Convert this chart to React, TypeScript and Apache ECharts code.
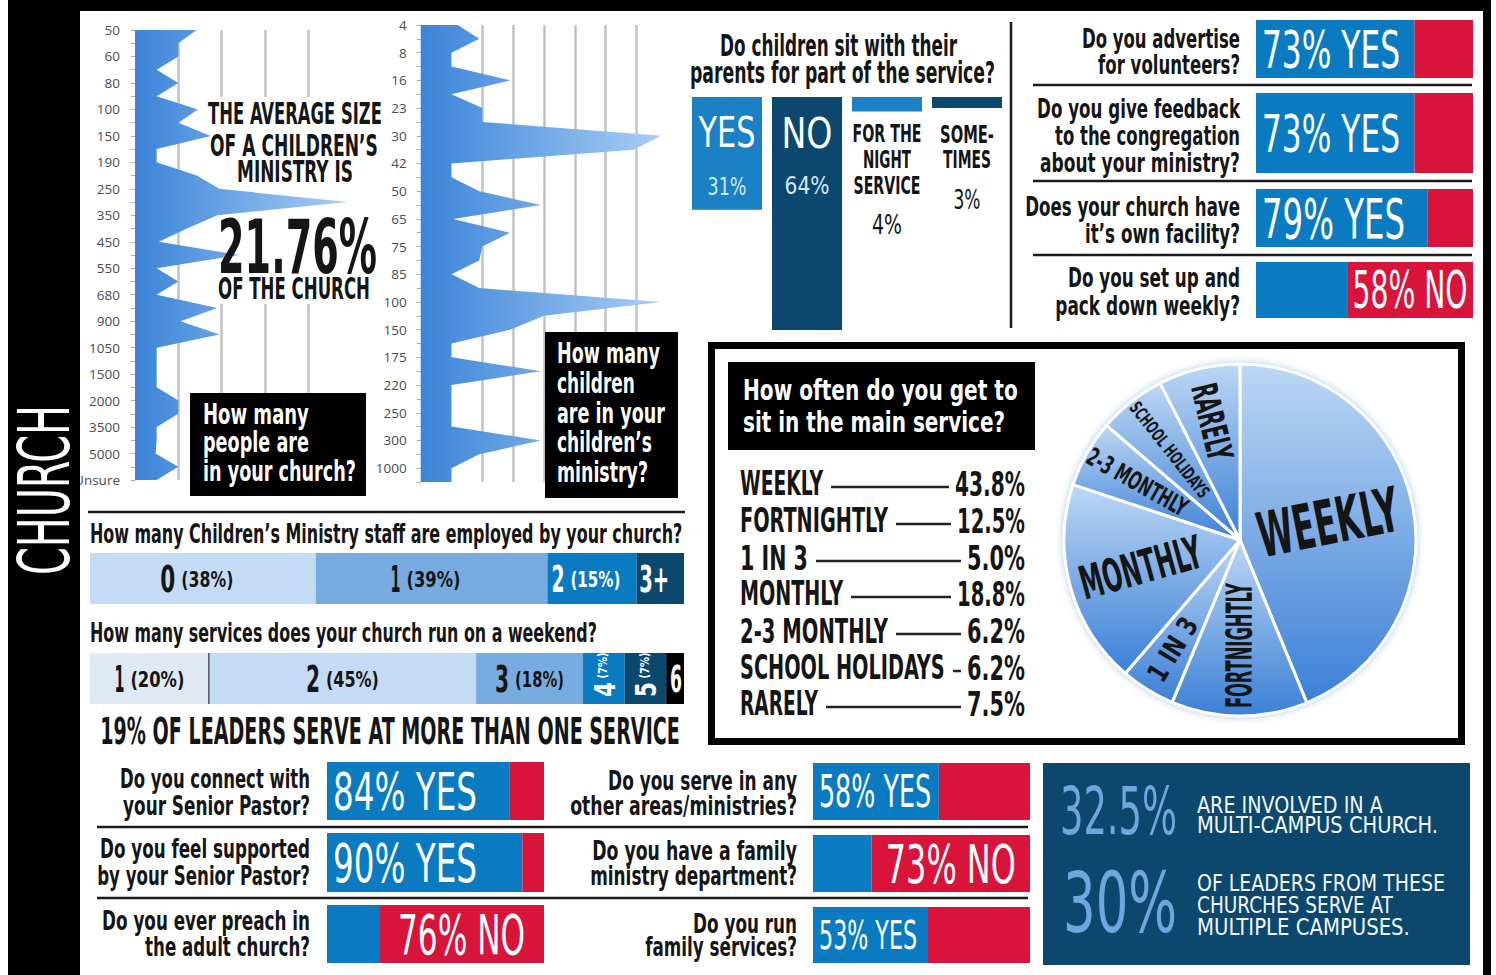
import React, { useEffect, useRef } from 'react';
import * as echarts from 'echarts';

// ======================= DATA =======================
// "How many people are in your church?" (every second row of the chart is unlabelled)
const churchSizeLabels = ['50', '60', '80', '100', '150', '190', '250', '350', '450', '550', '680', '900', '1050', '1500', '2000', '3500', '5000', 'Unsure'];
const churchSizeCounts = [2.85, 2, 2, 1, 2, 1, 2.9, 2, 3.5, 1, 1, 2.85, 3.9, 9.8, 3.8, 2.4, 1.1, 4.8, 1, 2, 1, 3.8, 2.1, 3.9, 1, 1, 1, 1, 2, 2, 1, 1, 0.95, 2, 1];
// "How many children are in your children's ministry?"
const childrenLabels = ['4', '8', '16', '23', '30', '42', '50', '65', '75', '85', '100', '150', '175', '220', '250', '300', '1000'];
const childrenCounts = [1.2, 1.9, 1, 1, 2.9, 1, 2, 2, 7.8, 6.9, 1, 1, 1.9, 3.9, 1.05, 2.9, 2, 1.9, 1, 1.9, 7.8, 4, 2.9, 1, 1, 3.9, 1, 1, 1, 1, 3.9, 1.9, 1, 1];
const averageChildrenShare = 21.76;

const sitCategories = ['YES', 'NO', 'FOR THE\nNIGHT\nSERVICE', 'SOME-\nTIMES'];
const sitValues = [31, 64, 4, 3];

const staffCategories = ['0', '1', '2', '3+'];
const staffValues = [38, 39, 15, 8];
const serviceCategories = ['1', '2', '3', '4', '5', '6'];
const serviceValues = [20, 45, 18, 7, 7, 3];
const leadersMultiService = 19;

const mainServiceCategories = ['WEEKLY', 'FORTNIGHTLY', '1 IN 3', 'MONTHLY', '2-3 MONTHLY', 'SCHOOL HOLIDAYS', 'RARELY'];
const mainServiceValues = [43.8, 12.5, 5.0, 18.8, 6.2, 6.2, 7.5];

const topQuestions = [['Do you advertise', 'for volunteers?'], ['Do you give feedback', 'to the congregation', 'about your ministry?'], ['Does your church have', 'it’s own facility?'], ['Do you set up and', 'pack down weekly?']];
const topYes = [73, 73, 79, 42];
const topNo = [27, 27, 21, 58];
const leftQuestions = [['Do you connect with', 'your Senior Pastor?'], ['Do you feel supported', 'by your Senior Pastor?'], ['Do you ever preach in', 'the adult church?']];
const leftYes = [84, 90, 24];
const leftNo = [16, 10, 76];
const midQuestions = [['Do you serve in any', 'other areas/ministries?'], ['Do you have a family', 'ministry department?'], ['Do you run', 'family services?']];
const midYes = [58, 27, 53];
const midNo = [42, 73, 47];

const multiCampusShare = 32.5;
const multiCampusLeaderShare = 30;

// ======================= STYLE / LAYOUT =======================
const BLUE = '#0a7bc0';
const BLUE2 = '#1b81c4';
const RED = '#d8143a';
const NAVY = '#0c476d';
const MIDBLUE = '#78abdf';
const LIGHTBLUE = '#c4dbf5';
const PALE = '#dfe8f3';
const INK = '#151515';
const GRIDC = '#c2c2c2';
const CLEAR = 'rgba(0,0,0,0)';

const PIE_CX = 1240;
const PIE_CY = 540;
const PIE_R = 176;
const pieLabelRadius = [0.51, 0.6, 0.73, 0.585, 0.67, 0.65, 0.69];
const pieLabelSize = [62, 36, 28, 46, 25, 18, 36];
const pieLabelW = [143, 125, 70, 125, 112, 117, 78];

function pickFont(ctx: any): string {
  if (!ctx) return 'Liberation Sans';
  const sample = 'Hamburgefonstiv 0123456789 WEEKLY';
  const cands = ['Liberation Sans Narrow', 'DejaVu Sans Condensed', 'Roboto Condensed', 'Open Sans Condensed', 'Arial Narrow'];
  for (const f of cands) {
    for (const fb of ['monospace', 'serif']) {
      ctx.font = `40px ${fb}`;
      const a = ctx.measureText(sample).width;
      ctx.font = `40px "${f}", ${fb}`;
      const b = ctx.measureText(sample).width;
      if (Math.abs(a - b) > 0.5) return f;
    }
  }
  return 'Liberation Sans';
}

export default function App() {
  const ref = useRef<HTMLDivElement>(null);

  useEffect(() => {
    const el = ref.current;
    if (!el) return;
    const chart = echarts.init(el, null, { renderer: 'svg' });

    const cv = document.createElement('canvas');
    const ctx = cv.getContext('2d');
    const fam = pickFont(ctx);
    const FONT = `"${fam}", "Liberation Sans", Arial, sans-serif`;

    const T = (text: string, x: number, y: number, o: any) => {
      const weight = o.weight ?? 'bold';
      const font = `${weight} ${o.size}px ${FONT}`;
      let mw = 1;
      if (ctx) {
        ctx.font = font;
        mw = ctx.measureText(text).width || 1;
      }
      const sx = o.w ? o.w / mw : o.sx ?? 1;
      const align = o.align ?? 'left';
      return {
        type: 'text',
        x,
        y,
        rotation: o.rot ?? 0,
        scaleX: sx,
        scaleY: 1,
        z: o.z ?? 20,
        silent: true,
        style: {
          text,
          font,
          fill: o.color ?? INK,
          align,
          textAlign: align,
          verticalAlign: 'middle',
          textVerticalAlign: 'middle',
        },
      };
    };

    // ---------- grids / series ----------
    const grids: any[] = [];
    const xAxes: any[] = [];
    const yAxes: any[] = [];
    const series: any[] = [];
    const hidden = { show: false };

    const addGrid = (box: number[], xa: any, ya: any) => {
      const i = grids.length;
      grids.push({ left: box[0], top: box[1], width: box[2], height: box[3], containLabel: false });
      xAxes.push({ gridIndex: i, ...xa });
      yAxes.push({ gridIndex: i, ...ya });
      return i;
    };

    const stackedBar = (box: number[], vals: number[], colors: string[]) => {
      const gi = addGrid(box, { type: 'value', min: 0, max: 100, show: false }, { type: 'category', data: ['all'], show: false });
      vals.forEach((v, i) => {
        series.push({
          type: 'bar',
          xAxisIndex: gi,
          yAxisIndex: gi,
          stack: 'st' + gi,
          barWidth: '100%',
          data: [v],
          itemStyle: { color: colors[i] },
          silent: true,
        });
      });
      return gi;
    };

    const spikeGrid = (box: number[], labels: string[], counts: number[], max: number, interval: number, lineColors: string[], margin: number) => {
      const cats = counts.map((_, i) => (i % 2 === 0 ? labels[i / 2] ?? '' : ''));
      const gi = addGrid(
        box,
        {
          type: 'value',
          min: 0,
          max,
          interval,
          axisLine: hidden,
          axisTick: hidden,
          axisLabel: hidden,
          splitLine: { show: true, lineStyle: { color: lineColors, width: 2.5 } },
        },
        {
          type: 'category',
          inverse: true,
          boundaryGap: false,
          data: cats,
          axisLine: hidden,
          axisTick: { show: true, interval: 0, length: 4, lineStyle: { color: '#a8a8a8' } },
          axisLabel: { interval: 0, margin, fontFamily: '"Open Sans", sans-serif', fontSize: 13.5, color: '#4d4d4d' },
          splitLine: hidden,
        }
      );
      series.push({
        type: 'line',
        xAxisIndex: gi,
        yAxisIndex: gi,
        data: counts,
        symbol: 'none',
        showSymbol: false,
        lineStyle: { width: 0, opacity: 0 },
        areaStyle: {
          opacity: 1,
          color: new echarts.graphic.LinearGradient(0, 0, 1, 0, [
            { offset: 0, color: '#3b84d7' },
            { offset: 1, color: '#a9cdf6' },
          ]),
        },
        silent: true,
        z: 2,
      });
      return gi;
    };

    const U1 = 21.67;
    spikeGrid([135, 30, 9.9 * U1, 450], churchSizeLabels, churchSizeCounts, 9.9, 2, [CLEAR, GRIDC, GRIDC, GRIDC, GRIDC, CLEAR], 15);
    const U2 = 30.83;
    spikeGrid([420.7, 25, 7.9 * U2, 457], childrenLabels, childrenCounts, 7.9, 1, [CLEAR, CLEAR, GRIDC, GRIDC, GRIDC, GRIDC, GRIDC, GRIDC, CLEAR], 14);

    const sitColors = [BLUE2, NAVY, BLUE2, NAVY];
    const gSit = addGrid([687, 97, 320, 233], { type: 'category', data: sitCategories, show: false }, { type: 'value', inverse: true, min: 0, max: 64, show: false });
    series.push({
      type: 'bar',
      xAxisIndex: gSit,
      yAxisIndex: gSit,
      barWidth: 70,
      data: sitValues.map((v, i) => ({ value: v, itemStyle: { color: sitColors[i] } })),
      silent: true,
    });

    const gStaff = stackedBar([90, 553, 594, 51], staffValues, [LIGHTBLUE, MIDBLUE, BLUE, NAVY]);
    const gServ = stackedBar([90, 653, 594, 51], serviceValues, [PALE, LIGHTBLUE, MIDBLUE, BLUE, NAVY, '#000']);

    const topBoxes = [[1256, 20, 217, 58], [1256, 93, 217, 80], [1256, 189, 217, 58], [1256, 262, 217, 56]];
    const leftBoxes = [[327, 762, 217, 58], [327, 833, 217, 59], [327, 905, 217, 58]];
    const midBoxes = [[813, 763, 217, 57], [813, 835, 217, 57], [813, 907, 217, 56]];
    const topG = topBoxes.map((b, i) => stackedBar(b, [topYes[i], topNo[i]], [BLUE, RED]));
    const leftG = leftBoxes.map((b, i) => stackedBar(b, [leftYes[i], leftNo[i]], [BLUE, RED]));
    const midG = midBoxes.map((b, i) => stackedBar(b, [midYes[i], midNo[i]], [BLUE, RED]));

    series.push({
      type: 'pie',
      center: [PIE_CX, PIE_CY],
      radius: [0, PIE_R],
      startAngle: 90,
      clockwise: true,
      data: mainServiceValues.map((v, i) => ({ name: mainServiceCategories[i], value: v })),
      label: { show: false },
      labelLine: { show: false },
      emphasis: { disabled: true },
      itemStyle: {
        color: new echarts.graphic.LinearGradient(0, 0, 0, 1, [
          { offset: 0, color: '#bdd7f4' },
          { offset: 1, color: '#3b80d6' },
        ]),
        borderColor: '#ffffff',
        borderWidth: 3,
      },
      silent: true,
      z: 3,
    });

    chart.setOption({
      animation: false,
      grid: grids,
      xAxis: xAxes,
      yAxis: yAxes,
      series,
    });

    const P = (gi: number, x: number, y: number) => chart.convertToPixel({ gridIndex: gi } as any, [x, y]) as number[];

    // ---------- graphics ----------
    const E: any[] = [];
    const R = (x: number, y: number, w: number, h: number, fill: string, z: number, extra: any = {}) => ({
      type: 'rect',
      shape: { x, y, width: w, height: h },
      style: { fill, ...extra },
      z,
      silent: true,
    });
    const Ln = (x1: number, y1: number, x2: number, y2: number, w = 2.5, z = 5, color = '#1b1b1b') => ({
      type: 'line',
      shape: { x1, y1, x2, y2 },
      style: { stroke: color, lineWidth: w },
      z,
      silent: true,
    });

    // frame
    E.push(R(8, 0, 1483, 975, '#000', -10));
    E.push(R(80, 11, 1403, 964, '#fff', -9));
    E.push(R(8, 0, 72, 975, '#000', 50));
    E.push(T('CHURCH', 44, 490, { size: 72, w: 170, align: 'center', color: '#fff', weight: 'normal', rot: Math.PI / 2, z: 60 }));

    // church size chart annotations
    E.push(R(203, 97, 182, 207, '#fff', 1));
    E.push(T('THE AVERAGE SIZE', 295, 114, { size: 30, w: 174, align: 'center' }));
    E.push(T('OF A CHILDREN’S', 294, 146, { size: 30, w: 168, align: 'center' }));
    E.push(T('MINISTRY IS', 295, 172, { size: 30, w: 116, align: 'center' }));
    E.push(T(`${averageChildrenShare}%`, 297.5, 247, { size: 74, w: 159, align: 'center' }));
    E.push(T('OF THE CHURCH', 294, 289, { size: 30, w: 152, align: 'center' }));

    E.push(R(190, 393, 176, 103, '#000', 10));
    E.push(T('How many', 203, 414, { size: 29, w: 106, color: '#fff' }));
    E.push(T('people are', 203, 442, { size: 29, w: 106, color: '#fff' }));
    E.push(T('in your church?', 203, 471, { size: 29, w: 153, color: '#fff' }));

    E.push(R(545, 332, 133, 166, '#000', 10));
    const kidsLines = ['How many', 'children', 'are in your', 'children’s', 'ministry?'];
    const kidsW = [103, 78, 108, 95, 91];
    kidsLines.forEach((s, k) => E.push(T(s, 557, 353 + k * 29.8, { size: 29, w: kidsW[k], color: '#fff' })));

    // sit with parents
    E.push(T('Do children sit with their', 838.5, 46, { size: 30, w: 237, align: 'center' }));
    E.push(T('parents for part of the service?', 842.5, 73, { size: 30, w: 305, align: 'center' }));
    const sitLineW = [[57], [51], [69, 48, 67], [54, 48]];
    const sitValW = [39, 45, 30, 27];
    sitCategories.forEach((c, i) => {
      const cx = P(gSit, i, 0)[0];
      const lines = c.split('\n');
      if (i < 2) {
        E.push(T(lines[0], cx, 133, { size: 42, w: sitLineW[i][0], align: 'center', color: '#fff', weight: 'normal' }));
        E.push(T(`${sitValues[i]}%`, cx, 186, { size: 25, w: sitValW[i], align: 'center', color: '#d5e8f8', weight: 'normal' }));
      } else {
        lines.forEach((ln, k) => E.push(T(ln, cx, 134 + k * 26, { size: 25, w: sitLineW[i][k], align: 'center' })));
        E.push(T(`${sitValues[i]}%`, cx, 134 + (lines.length - 1) * 26 + 39.5, { size: 27, w: sitValW[i], align: 'center', weight: 'normal' }));
      }
    });
    E.push(Ln(1011, 22, 1011, 328, 2.5));

    // yes / no rows
    const rowLabels = (gis: number[], questions: string[][], yes: number[], no: number[], qRight: number, qY: number[][], qW: number[][], lab: any[]) => {
      gis.forEach((gi, i) => {
        questions[i].forEach((line, k) => E.push(T(line, qRight, qY[i][k], { size: 26, w: qW[i][k], align: 'right' })));
        const p0 = P(gi, 0, 0);
        const x0 = p0[0];
        const cy = p0[1];
        const xb = P(gi, yes[i], 0)[0];
        const x1 = P(gi, 100, 0)[0];
        const yesWins = yes[i] >= no[i];
        const txt = yesWins ? `${yes[i]}% YES` : `${no[i]}% NO`;
        const { s, w } = lab[i];
        const cx = yesWins ? Math.min((x0 + xb) / 2, x0 + 6 + w / 2) : (xb + x1) / 2;
        E.push(T(txt, cx, cy + 1, { size: s, w, align: 'center', color: '#fff', weight: 'normal' }));
      });
    };
    rowLabels(topG, topQuestions, topYes, topNo, 1240,
      [[38.5, 64.5], [109, 136, 163], [207, 234], [277.5, 306]],
      [[158, 142], [203, 185, 200], [215, 155], [172, 185]],
      [{ s: 51, w: 138 }, { s: 51, w: 138 }, { s: 55, w: 143 }, { s: 51, w: 115 }]);
    rowLabels(leftG, leftQuestions, leftYes, leftNo, 310,
      [[779, 806], [849, 876], [921, 947]],
      [[190, 187], [210, 213], [208, 165]],
      [{ s: 51, w: 144 }, { s: 53, w: 144 }, { s: 55, w: 127 }]);
    rowLabels(midG, midQuestions, midYes, midNo, 797,
      [[781, 806], [851, 876], [924, 947]],
      [[189, 227], [205, 207], [104, 152]],
      [{ s: 44, w: 112 }, { s: 53, w: 130 }, { s: 39, w: 98 }]);
    [85, 181, 255].forEach((y) => E.push(Ln(1033, y, 1472, y, 2.5)));
    [827, 898].forEach((y) => E.push(Ln(97, y, 1028, y, 2.5)));

    // staff & services
    E.push(Ln(88, 512, 685, 512, 2.5));
    E.push(T('How many Children’s Ministry staff are employed by your church?', 90, 534, { size: 26, w: 593 }));
    E.push(T('How many services does your church run on a weekend?', 90, 633, { size: 26, w: 507 }));
    E.push(T(`${leadersMultiService}% OF LEADERS SERVE AT MORE THAN ONE SERVICE`, 390, 731.5, { size: 37, w: 580, align: 'center' }));

    const pair = (cx: number, cy: number, d: string, pct: string, wd: number, wp: number, color: string) => {
      const gap = 6;
      const tot = wd + (wp ? gap + wp : 0);
      const left = cx - tot / 2;
      E.push(T(d, left, cy, { size: 38, w: wd, color }));
      if (wp) E.push(T(pct, left + wd + gap, cy + 1, { size: 22, w: wp, color }));
    };
    const staffW = [[15, 52], [10, 54], [13, 50], [30, 0]];
    const staffInk = [INK, INK, '#fff', '#fff'];
    let acc = 0;
    staffValues.forEach((v, i) => {
      const p = P(gStaff, acc + v / 2, 0);
      acc += v;
      pair(p[0] - 6, p[1], staffCategories[i], i < 3 ? `(${v}%)` : '', staffW[i][0], staffW[i][1], staffInk[i]);
    });
    const servW = [[10, 54], [14, 53], [14, 49]];
    acc = 0;
    serviceValues.forEach((v, i) => {
      const p = P(gServ, acc + v / 2, 0);
      acc += v;
      if (i < 3) pair(p[0], p[1], serviceCategories[i], `(${v}%)`, servW[i][0], servW[i][1], INK);
      else if (i < 5) {
        E.push(T(serviceCategories[i], p[0] + 1, p[1] + 11, { size: 28, sx: 0.85, align: 'center', color: '#fff', rot: Math.PI / 2 }));
        E.push(T(`(${v}%)`, p[0] - 1, p[1] - 13, { size: 13, sx: 0.85, align: 'center', color: '#fff', rot: Math.PI / 2 }));
      } else {
        E.push(T(serviceCategories[i], p[0] + 1, p[1], { size: 38, w: 12, align: 'center', color: '#fff' }));
      }
    });
    const sep = P(gServ, serviceValues[0], 0)[0];
    E.push(Ln(sep, 653, sep, 704, 1.5, 6, '#555'));

    // main service box
    E.push(R(711.5, 345.5, 750, 396, 'none', 5, { stroke: '#000', lineWidth: 7 }));
    E.push(R(728, 362, 307, 88, '#000', 5));
    E.push(T('How often do you get to', 743, 390, { size: 29, w: 275, color: '#fff' }));
    E.push(T('sit in the main service?', 743, 422, { size: 29, w: 262, color: '#fff' }));
    const listY = [484, 521, 558, 594, 631, 668, 704];
    const listLabW = [83, 148, 68, 103, 148, 205, 78];
    const listValW = [70, 68, 58, 68, 58, 58, 58];
    mainServiceCategories.forEach((c, i) => {
      E.push(T(c, 740, listY[i], { size: 34, w: listLabW[i] }));
      E.push(T(`${mainServiceValues[i].toFixed(1)}%`, 1025, listY[i], { size: 34, w: listValW[i], align: 'right' }));
      const xs = 740 + listLabW[i] + 8;
      const xe = 1025 - listValW[i] - 6;
      E.push(Ln(xs, listY[i] + 3, xe, listY[i] + 3, 2.5, 6, '#222'));
    });
    E.push({ type: 'circle', shape: { cx: PIE_CX, cy: PIE_CY, r: PIE_R }, style: { fill: '#8fb8ea', shadowBlur: 8, shadowColor: 'rgba(70,130,210,0.6)' }, z: 1, silent: true });
    const total = mainServiceValues.reduce((a, b) => a + b, 0);
    let cum = 0;
    mainServiceValues.forEach((v, i) => {
      const mid = ((cum + v / 2) / total) * 360;
      cum += v;
      const rad = (mid * Math.PI) / 180;
      const r = PIE_R * pieLabelRadius[i];
      const x = PIE_CX + r * Math.sin(rad);
      const y = PIE_CY - r * Math.cos(rad);
      let th = 90 - mid;
      while (th > 180) th -= 360;
      while (th <= -180) th += 360;
      if (th > 90) th -= 180;
      else if (th < -90) th += 180;
      E.push(T(mainServiceCategories[i], x, y, { size: pieLabelSize[i], w: pieLabelW[i], align: 'center', rot: (th * Math.PI) / 180, z: 20 }));
    });

    // multi-campus box
    E.push(R(1043, 763, 427, 202, NAVY, 5));
    E.push(T(`${multiCampusShare}%`, 1060, 812, { size: 65, w: 117, color: '#6fa6de', weight: 'normal' }));
    E.push(T('ARE INVOLVED IN A', 1197, 805, { size: 23, w: 186, color: '#f2f6fa', weight: 'normal' }));
    E.push(T('MULTI-CAMPUS CHURCH.', 1197, 825, { size: 23, w: 241, color: '#f2f6fa', weight: 'normal' }));
    E.push(T(`${multiCampusLeaderShare}%`, 1063, 903, { size: 84, w: 114, color: '#6fa6de', weight: 'normal' }));
    E.push(T('OF LEADERS FROM THESE', 1197, 883, { size: 23, w: 248, color: '#f2f6fa', weight: 'normal' }));
    E.push(T('CHURCHES SERVE AT', 1197, 905, { size: 23, w: 196, color: '#f2f6fa', weight: 'normal' }));
    E.push(T('MULTIPLE CAMPUSES.', 1197, 927, { size: 23, w: 213, color: '#f2f6fa', weight: 'normal' }));

    chart.setOption({ graphic: { elements: E } });

    return () => {
      chart.dispose();
    };
  }, []);

  return <div ref={ref} style={{ position: 'absolute', left: 0, top: 0, width: 1496, height: 975 }} />;
}
